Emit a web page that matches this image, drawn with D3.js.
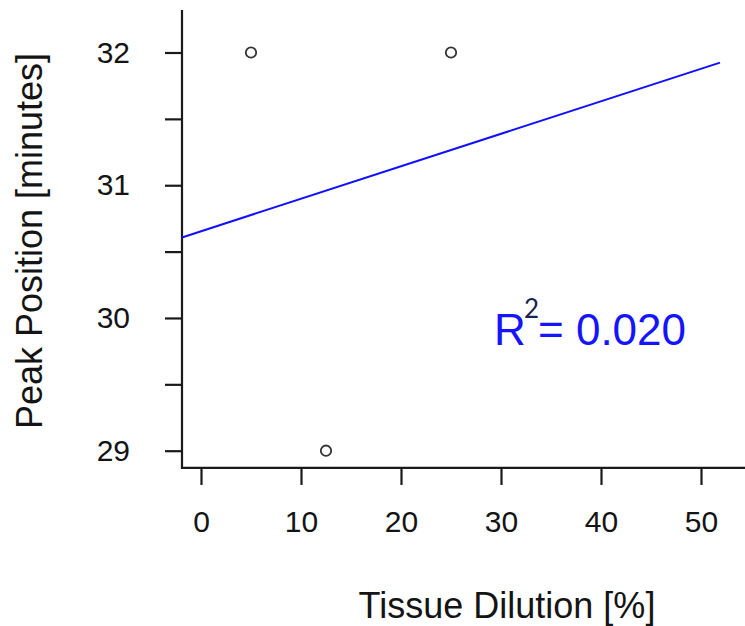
<!DOCTYPE html>
<html>
<head>
<meta charset="utf-8">
<script src="https://cdn.jsdelivr.net/npm/d3@7"></script>
<style>
  html, body { margin: 0; padding: 0; background: #fff; }
  svg { display: block; }
  text { font-family: "Liberation Sans", Arial, sans-serif; }
</style>
</head>
<body>
<svg id="chart" width="745" height="626"></svg>
<script>
// Observations: tissue dilution (%) vs. peak position (minutes)
const dilution = [5, 25, 12.5];
const peakPosition = [32, 32, 29];

// Axis ticks
const xTicks = [0, 10, 20, 30, 40, 50];
const yTicks = [29, 29.5, 30, 30.5, 31, 31.5, 32];
const yTickLabels = ["29", "", "30", "", "31", "", "32"];

// Plot limits (data units) and span of the fitted line
const xLimits = [-1.9, 57];
const yLimits = [28.87, 32.32];
const fitSpan = [-1.9, 51.9];

const svg = d3.select("#chart");

const x = d3.scaleLinear().domain([0, 50]).range([201, 701]);
const y = d3.scaleLinear().domain([29, 32]).range([450.7, 52.5]);

const axisColor = "#1a1a1a";

// Least-squares fit
const mx = d3.mean(dilution), my = d3.mean(peakPosition);
let sxy = 0, sxx = 0, syy = 0;
dilution.forEach((d, i) => {
  sxy += (d - mx) * (peakPosition[i] - my);
  sxx += (d - mx) ** 2;
  syy += (peakPosition[i] - my) ** 2;
});
const slope = sxy / sxx;
const intercept = my - slope * mx;
const r2 = (sxy * sxy) / (sxx * syy);

// L-shaped frame: left and bottom axis lines
svg.append("line")
  .attr("x1", x(xLimits[0])).attr("x2", x(xLimits[0]))
  .attr("y1", y(yLimits[1])).attr("y2", y(yLimits[0]))
  .attr("stroke", axisColor).attr("stroke-width", 2.2);
svg.append("line")
  .attr("x1", x(xLimits[0])).attr("x2", x(xLimits[1]))
  .attr("y1", y(yLimits[0])).attr("y2", y(yLimits[0]))
  .attr("stroke", axisColor).attr("stroke-width", 2.2)
  .attr("stroke-linecap", "square");

// Bottom axis ticks and labels
const xAxis = svg.append("g")
  .attr("transform", `translate(0,${y(yLimits[0])})`)
  .call(d3.axisBottom(x).tickValues(xTicks).tickSize(17).tickPadding(0).tickFormat(d3.format("d")));
xAxis.select(".domain").remove();
xAxis.selectAll(".tick line").attr("stroke", axisColor).attr("stroke-width", 2.2);
xAxis.selectAll(".tick text")
  .attr("y", 64).attr("dy", 0)
  .attr("fill", "#141414")
  .style("font-size", "30px")
  .style("font-family", "'Liberation Sans', Arial, sans-serif");

// Left axis ticks and labels
const yAxis = svg.append("g")
  .attr("transform", `translate(${x(xLimits[0])},0)`)
  .call(d3.axisLeft(y).tickValues(yTicks).tickSize(17).tickPadding(0)
    .tickFormat((d, i) => yTickLabels[i]));
yAxis.select(".domain").remove();
yAxis.selectAll(".tick line").attr("stroke", axisColor).attr("stroke-width", 2.2);
yAxis.selectAll(".tick text")
  .attr("x", -52).attr("dy", 9.5)
  .attr("fill", "#141414")
  .style("font-size", "30px")
  .style("font-family", "'Liberation Sans', Arial, sans-serif");

// Axis titles
svg.append("text")
  .attr("x", 507).attr("y", 618)
  .attr("text-anchor", "middle")
  .attr("fill", "#141414")
  .style("font-size", "36px")
  .text("Tissue Dilution [%]");
svg.append("text")
  .attr("transform", "translate(42,241) rotate(-90)")
  .attr("text-anchor", "middle")
  .attr("fill", "#141414")
  .style("font-size", "36px")
  .text("Peak Position [minutes]");

// Regression line
svg.append("line")
  .attr("x1", x(fitSpan[0])).attr("y1", y(intercept + slope * fitSpan[0]))
  .attr("x2", x(fitSpan[1])).attr("y2", y(intercept + slope * fitSpan[1]))
  .attr("stroke", "#1010ff").attr("stroke-width", 2);

// Data points
svg.append("g").selectAll("circle")
  .data(dilution.map((d, i) => ({ x: d, y: peakPosition[i] })))
  .join("circle")
  .attr("cx", d => x(d.x)).attr("cy", d => y(d.y))
  .attr("r", 5.2)
  .attr("fill", "none")
  .attr("stroke", "#333")
  .attr("stroke-width", 1.8);

// Coefficient of determination
const r2Label = svg.append("g");
r2Label.append("text")
  .attr("x", 494).attr("y", 345)
  .attr("fill", "#1414ff")
  .style("font-size", "44px")
  .text("R");
r2Label.append("text")
  .attr("x", 524).attr("y", 318)
  .attr("fill", "#16234f")
  .style("font-size", "26px")
  .style("font-family", "Lato, 'Open Sans', sans-serif")
  .text("2");
r2Label.append("text")
  .attr("x", 538).attr("y", 345)
  .attr("fill", "#1414ff")
  .style("font-size", "44px")
  .text("= " + r2.toFixed(3));
</script>
</body>
</html>
